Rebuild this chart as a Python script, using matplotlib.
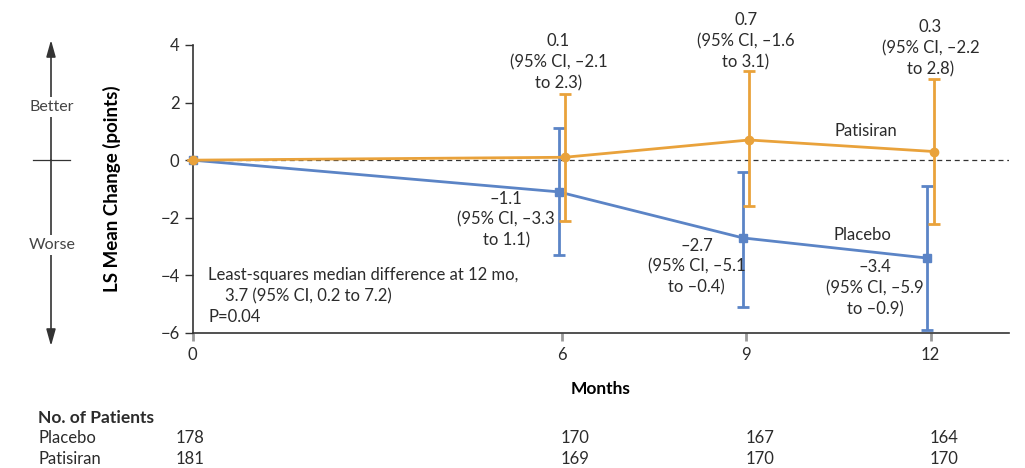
import matplotlib.pyplot as plt
import matplotlib.transforms as mtransforms

plt.rcParams["font.family"] = ["Lato", "DejaVu Sans"]
plt.rcParams["text.color"] = "#2b2b2b"

# data
months = [0, 6, 9, 12]
placebo_mean = [0.0, -1.1, -2.7, -3.4]
placebo_lo = [0.0, -3.3, -5.1, -5.9]
placebo_hi = [0.0, 1.1, -0.4, -0.9]
patisiran_mean = [0.0, 0.1, 0.7, 0.3]
patisiran_lo = [0.0, -2.1, -1.6, -2.2]
patisiran_hi = [0.0, 2.3, 3.1, 2.8]
placebo_n = [178, 170, 167, 164]
patisiran_n = [181, 169, 170, 170]
yticks = [-6, -4, -2, 0, 2, 4]

BLUE = "#5b84c6"
ORANGE = "#e9a23b"
TXT = "#2b2b2b"

fig = plt.figure(figsize=(10.25, 4.68), dpi=100)
ax = fig.add_axes([0.188, 0.2885, 0.796, 0.6155])

off = 0.05
px = [m - off if m > 0 else m for m in months]
ox = [m + off if m > 0 else m for m in months]

ax.axhline(0, color="#333333", lw=0.9, ls=(0, (4, 3)), zorder=1)

pl_err = [[m - lo for m, lo in zip(placebo_mean, placebo_lo)],
          [hi - m for m, hi in zip(placebo_mean, placebo_hi)]]
pa_err = [[m - lo for m, lo in zip(patisiran_mean, patisiran_lo)],
          [hi - m for m, hi in zip(patisiran_mean, patisiran_hi)]]

ax.errorbar(px, placebo_mean, yerr=pl_err, color=BLUE, lw=2, marker="s", ms=6,
            capsize=4, capthick=2, elinewidth=2, zorder=3, clip_on=False)
ax.errorbar(ox, patisiran_mean, yerr=pa_err, color=ORANGE, lw=2, marker="o", ms=6,
            capsize=4, capthick=2, elinewidth=2, zorder=4, clip_on=False)

ax.set_xlim(0, 13.27)
ax.set_ylim(-6, 4)
ax.set_xticks(months)
ax.set_yticks(yticks)
ax.set_yticklabels([str(t).replace("-", "\u2212") for t in yticks])
for s in ["top", "right"]:
    ax.spines[s].set_visible(False)
for s in ["left", "bottom"]:
    ax.spines[s].set_color("#333333")
    ax.spines[s].set_linewidth(1.2)
ax.tick_params(axis="both", direction="out", length=6, width=1, colors="#333333",
               labelsize=12, labelcolor=TXT)
ax.tick_params(axis="x", colors="#999999", labelcolor=TXT, width=2, pad=4)
ax.set_xlabel("Months", fontsize=12.5, fontweight="bold", labelpad=13)
ax.set_ylabel("LS Mean Change (points)", fontsize=13.5, fontweight="bold", labelpad=28)

fs = 12
ls = 1.38
M = "\u2013"
ax.text(5.95, 3.4, "0.1\n(95% CI, " + M + "2.1\nto 2.3)", ha="center", va="center",
        fontsize=fs, linespacing=ls, clip_on=False)
ax.text(9.0, 4.13, "0.7\n(95% CI, " + M + "1.6\nto 3.1)", ha="center", va="center",
        fontsize=fs, linespacing=ls, clip_on=False)
ax.text(12.0, 3.89, "0.3\n(95% CI, " + M + "2.2\nto 2.8)", ha="center", va="center",
        fontsize=fs, linespacing=ls, clip_on=False)
ax.text(5.1, -2.07, M + "1.1\n(95% CI, " + M + "3.3\nto 1.1)", ha="center", va="center",
        fontsize=fs, linespacing=ls)
ax.text(8.2, -3.7, M + "2.7\n(95% CI, " + M + "5.1\nto " + M + "0.4)", ha="center",
        va="center", fontsize=fs, linespacing=ls)
ax.text(11.1, -4.44, M + "3.4\n(95% CI, " + M + "5.9\nto " + M + "0.9)", ha="center",
        va="center", fontsize=fs, linespacing=ls)
ax.text(10.95, 1.0, "Patisiran", ha="center", va="center", fontsize=fs)
ax.text(10.9, -2.6, "Placebo", ha="center", va="center", fontsize=fs)
ax.text(0.25, -3.72, "Least-squares median difference at 12 mo,\n"
        "    3.7 (95% CI, 0.2 to 7.2)\nP=0.04", ha="left", va="top",
        fontsize=fs, linespacing=ls)

# better / worse indicator
fig.add_artist(plt.Line2D([33 / 1025, 70 / 1025], [1 - 160 / 468] * 2,
                          color="#333333", lw=0.9))
for y_end in [40, 346]:
    ax.annotate("", xy=(51 / 1025, 1 - y_end / 468), xytext=(51 / 1025, 1 - 160 / 468),
                xycoords="figure fraction", textcoords="figure fraction",
                arrowprops=dict(arrowstyle="-|>,head_length=1.0,head_width=0.28",
                                color="#333333", lw=1.2, shrinkA=0, shrinkB=0))
for label, yp in [("Better", 107), ("Worse", 245)]:
    fig.text(52 / 1025, 1 - yp / 468, label, ha="center", va="center", fontsize=11.5,
             color="#444444", bbox=dict(facecolor="white", edgecolor="none", pad=2))

# numbers at risk
trans = mtransforms.blended_transform_factory(ax.transData, fig.transFigure)
fig.text(38 / 1025, 1 - 418 / 468, "No. of Patients", ha="left", va="center",
         fontsize=12.5, fontweight="bold")
fig.text(38 / 1025, 1 - 438 / 468, "Placebo", ha="left", va="center", fontsize=12)
fig.text(38 / 1025, 1 - 459 / 468, "Patisiran", ha="left", va="center", fontsize=12)
for m, a, b in zip(months, placebo_n, patisiran_n):
    xx = m + 0.22 if m > 0 else m - 0.05
    ax.text(xx, 1 - 438 / 468, str(a), transform=trans, ha="center", va="center",
            fontsize=12)
    ax.text(xx, 1 - 459 / 468, str(b), transform=trans, ha="center", va="center",
            fontsize=12)

fig.savefig("out.png", dpi=100)
